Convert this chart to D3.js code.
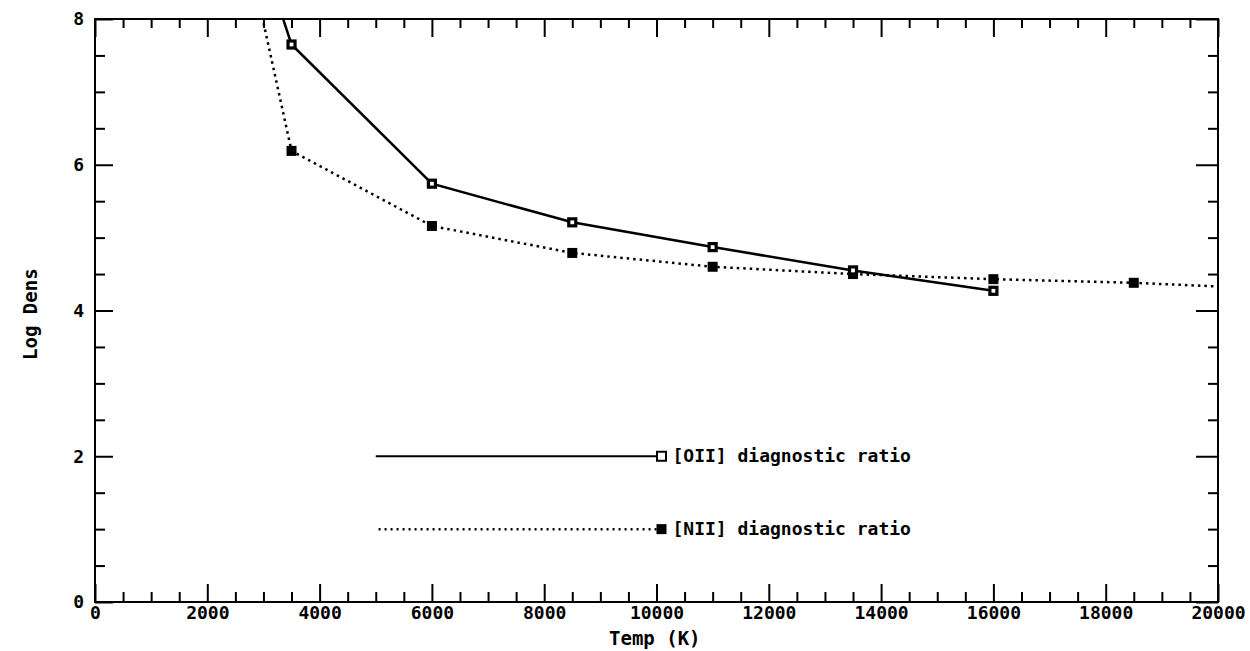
<!DOCTYPE html>
<html>
<head>
<meta charset="utf-8">
<script src="https://cdn.jsdelivr.net/npm/d3@7"></script>
<style>
  body { margin: 0; background: #fff; }
  svg text { font-family: "DejaVu Sans Mono", "Liberation Mono", monospace; font-weight: bold; fill: #000; }
</style>
</head>
<body>
<div id="chart"></div>
<script>
// temperatures (K) at which the ratios were evaluated
const temps = [1000, 3500, 6000, 8500, 11000, 13500, 16000, 18500, 20000];
// log density from [OII] ratio (first point runs off the top)
const oiiDens = [13.5, 7.65, 5.74, 5.21, 4.87, 4.55, 4.27, null, null];
// log density from [NII] ratio (last point is where the curve leaves the frame)
const niiDens = [15.0, 6.19, 5.16, 4.79, 4.60, 4.50, 4.43, 4.38, 4.33];
const niiMarked = [false, true, true, true, true, true, true, true, false];

const xTickLabels = [0, 2000, 4000, 6000, 8000, 10000, 12000, 14000, 16000, 18000, 20000];
const yTickLabels = [0, 2, 4, 6, 8];

const legendItems = [
  { label: '[OII] diagnostic ratio', y: 2, x0: 5000, x1: 10000, dotted: false },
  { label: '[NII] diagnostic ratio', y: 1, x0: 5050, x1: 10000, dotted: true }
];

const width = 1250, height = 651;
const margin = { top: 19, right: 32, bottom: 49, left: 95 };
const innerW = width - margin.left - margin.right;
const innerH = height - margin.top - margin.bottom;

const svg = d3.select('#chart').append('svg')
  .attr('width', width)
  .attr('height', height);

const g = svg.append('g')
  .attr('transform', `translate(${margin.left},${margin.top})`);

const x = d3.scaleLinear().domain([0, 20000]).range([0, innerW]);
const y = d3.scaleLinear().domain([0, 8]).range([innerH, 0]);

g.append('clipPath').attr('id', 'plotClip')
  .append('rect').attr('width', innerW).attr('height', innerH);

// frame
g.append('rect')
  .attr('width', innerW).attr('height', innerH)
  .attr('fill', 'none').attr('stroke', '#000').attr('stroke-width', 2);

const xMinor = d3.range(0, 20001, 500);
const yMinor = d3.range(0, 8.01, 0.5);
const isMajorX = v => v % 2000 === 0;
const isMajorY = v => v % 2 === 0;

function styleAxis(sel) {
  sel.select('.domain').remove();
  sel.selectAll('.tick line').attr('stroke', '#000').attr('stroke-width', 2);
}

// bottom
g.append('g').attr('transform', `translate(0,${innerH})`)
  .call(d3.axisBottom(x).tickValues(xMinor).tickSizeInner(0).tickFormat(''))
  .call(styleAxis)
  .call(a => a.selectAll('.tick line').attr('y2', d => isMajorX(d) ? -18 : -10));
g.append('g').attr('transform', `translate(0,${innerH})`)
  .call(d3.axisBottom(x).tickValues(xTickLabels).tickSize(0).tickPadding(4).tickFormat(d3.format('d')))
  .call(a => a.select('.domain').remove())
  .call(a => a.selectAll('.tick text').attr('font-size', 18));

// top
g.append('g')
  .call(d3.axisTop(x).tickValues(xMinor).tickSizeInner(0).tickFormat(''))
  .call(styleAxis)
  .call(a => a.selectAll('.tick line').attr('y2', d => isMajorX(d) ? 18 : 9));

// left
g.append('g')
  .call(d3.axisLeft(y).tickValues(yMinor).tickSizeInner(0).tickFormat(''))
  .call(styleAxis)
  .call(a => a.selectAll('.tick line').attr('x2', d => isMajorY(d) ? 18 : 10));
g.append('g')
  .call(d3.axisLeft(y).tickValues(yTickLabels).tickSize(0).tickPadding(11).tickFormat(d3.format('d')))
  .call(a => a.select('.domain').remove())
  .call(a => a.selectAll('.tick text').attr('font-size', 18));

// right
g.append('g').attr('transform', `translate(${innerW},0)`)
  .call(d3.axisRight(y).tickValues(yMinor).tickSizeInner(0).tickFormat(''))
  .call(styleAxis)
  .call(a => a.selectAll('.tick line').attr('x2', d => isMajorY(d) ? -22 : -10));

// axis titles
svg.append('text')
  .attr('x', margin.left + x(9970)).attr('y', 645)
  .attr('text-anchor', 'middle').attr('font-size', 19)
  .text('Temp (K)');
svg.append('text')
  .attr('transform', `translate(37,${margin.top + y(3.95)}) rotate(-90)`)
  .attr('text-anchor', 'middle').attr('font-size', 19)
  .text('Log Dens');

// curves
const plot = g.append('g').attr('clip-path', 'url(#plotClip)');
const oiiPts = temps.map((t, i) => [t, oiiDens[i]]).filter(p => p[1] != null);
const niiPts = temps.map((t, i) => [t, niiDens[i]]);
const line = d3.line().x(d => x(d[0])).y(d => y(d[1]));

plot.append('path').datum(oiiPts)
  .attr('d', line).attr('fill', 'none')
  .attr('stroke', '#000').attr('stroke-width', 2.5);
plot.append('path').datum(niiPts)
  .attr('d', line).attr('fill', 'none')
  .attr('stroke', '#000').attr('stroke-width', 2.5)
  .attr('stroke-dasharray', '2.5,4');

// markers
plot.selectAll('.nii').data(niiPts.filter((p, i) => niiMarked[i]))
  .join('rect').attr('class', 'nii')
  .attr('x', d => x(d[0]) - 5).attr('y', d => y(d[1]) - 5)
  .attr('width', 10).attr('height', 10).attr('fill', '#000');
plot.selectAll('.oii').data(oiiPts.slice(1))
  .join('rect').attr('class', 'oii')
  .attr('x', d => x(d[0]) - 3.5).attr('y', d => y(d[1]) - 3.5)
  .attr('width', 7).attr('height', 7)
  .attr('fill', '#fff').attr('stroke', '#000').attr('stroke-width', 3.2);

// legend
const leg = g.append('g');
legendItems.forEach(item => {
  leg.append('line')
    .attr('x1', x(item.x0)).attr('x2', x(item.x1))
    .attr('y1', y(item.y)).attr('y2', y(item.y))
    .attr('stroke', '#000').attr('stroke-width', item.dotted ? 2.5 : 2)
    .attr('stroke-dasharray', item.dotted ? '2,4' : null);
  const mx = x(item.x1) + 5;
  if (item.dotted) {
    leg.append('rect').attr('x', mx - 5).attr('y', y(item.y) - 5)
      .attr('width', 10).attr('height', 10).attr('fill', '#000');
  } else {
    leg.append('rect').attr('x', mx - 4.5).attr('y', y(item.y) - 4.5)
      .attr('width', 9).attr('height', 9)
      .attr('fill', '#fff').attr('stroke', '#000').attr('stroke-width', 2);
  }
  leg.append('text')
    .attr('x', mx + 11).attr('y', y(item.y) + 6)
    .attr('font-size', 18)
    .text(item.label);
});
</script>
</body>
</html>
